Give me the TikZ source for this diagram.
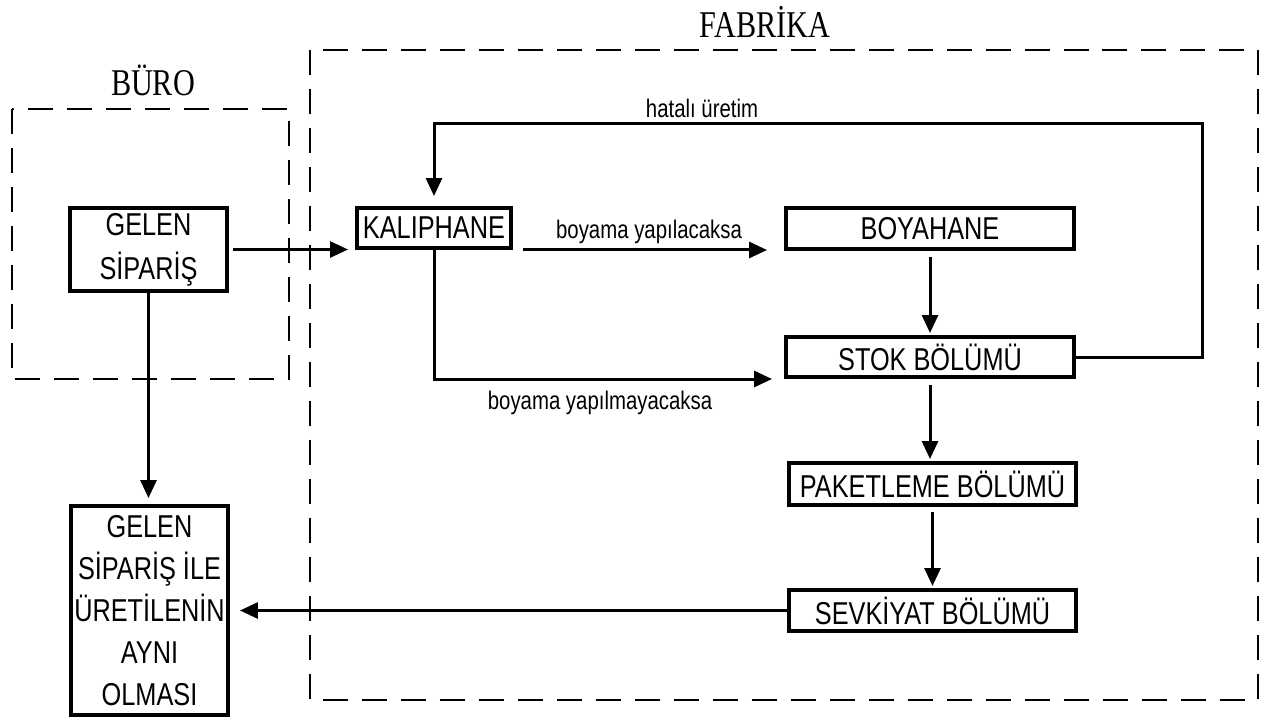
\documentclass[tikz,border=0pt]{standalone}
\usepackage{fontspec}
\usetikzlibrary{arrows.meta,calc}
\newfontfamily\boxfont[FakeStretch=0.8]{Liberation Sans}
\newfontfamily\titlefont[FakeStretch=0.8]{Liberation Serif}
\begin{document}
\begin{tikzpicture}[x=0.02cm,y=-0.02cm,
  dept/.style={draw,line width=0.08cm,inner sep=0pt,align=center,
    font=\boxfont\fontsize{18}{25}\selectfont},
  cond/.style={inner sep=0pt,font=\boxfont\fontsize{14.5}{17}\selectfont},
  heading/.style={inner sep=0pt,font=\titlefont\fontsize{21.5}{25}\selectfont},
  area/.style={line width=0.04cm,dash pattern=on 0.5cm off 0.28cm},
  flow/.style={line width=0.06cm,-{Triangle[length=0.36cm,width=0.32cm]}}]
\useasboundingbox (0,0) rectangle (1264,720);

% office and factory zones
\draw[area] (12,109) rectangle (289,379);
\draw[area] (310,50) rectangle (1258,700);
\node[heading] (buro) at (153,80) {BÜRO};
\node[heading] (fabrika) at (765,22) {FABRİKA};

% departments
\node[dept,minimum width=3.14cm,minimum height=1.66cm] (gelen) at (148.5,249.5) {GELEN\\SİPARİŞ};
\node[dept,minimum width=3.08cm,minimum height=0.8cm] (kalip) at (434,228) {KALIPHANE};
\node[dept,minimum width=5.76cm,minimum height=0.82cm] (boya) at (930,228.5) {BOYAHANE};
\node[dept,minimum width=5.76cm,minimum height=0.8cm] (stok) at (930,357) {STOK BÖLÜMÜ};
\node[dept,minimum width=5.74cm,minimum height=0.84cm] (paket) at (932.5,484) {PAKETLEME BÖLÜMÜ};
\node[dept,minimum width=5.74cm,minimum height=0.82cm] (sevk) at (932.5,610.5) {SEVKİYAT BÖLÜMÜ};
\node[dept,minimum width=3.14cm,minimum height=4.18cm,
  font=\boxfont\fontsize{18}{24}\selectfont] (sonuc) at (149.5,610.5)
  {GELEN\\SİPARİŞ İLE\\ÜRETİLENİN\\AYNI\\OLMASI};

% flows
\draw[flow,shorten <=0.08cm,shorten >=0.14cm] (gelen.east) -- (gelen.east -| kalip.west);
\draw[flow,shorten <=0.2cm,shorten >=0.34cm] (kalip.south east) -- (kalip.south east -| boya.west);
\node[cond] (l1) at (649,232) {boyama yapılacaksa};
\draw[flow,shorten <=0.12cm,shorten >=0.04cm] (boya.south) -- (stok.north);
\draw[flow,shorten >=0.24cm] (kalip.south) |- (stok.south west);
\node[cond] (l2) at (600,403) {boyama yapılmayacaksa};
\coordinate (loop) at (1202,123);
\draw[flow,shorten >=0.2cm] (stok.east) -| (loop) -| (kalip.north);
\node[cond] (l3) at (702,108) {hatalı üretim};
\draw[flow,shorten <=0.12cm,shorten >=0.04cm] (stok.south) -- (stok.south |- paket.north);
\draw[flow,shorten <=0.1cm,shorten >=0.04cm] (paket.south) -- (paket.south |- sevk.north);
\draw[flow,shorten >=0.2cm] (sevk.west) -- (sevk.west -| sonuc.east);
\draw[flow,shorten >=0.12cm] (gelen.south) -- (gelen.south |- sonuc.north);
\end{tikzpicture}
\end{document}
